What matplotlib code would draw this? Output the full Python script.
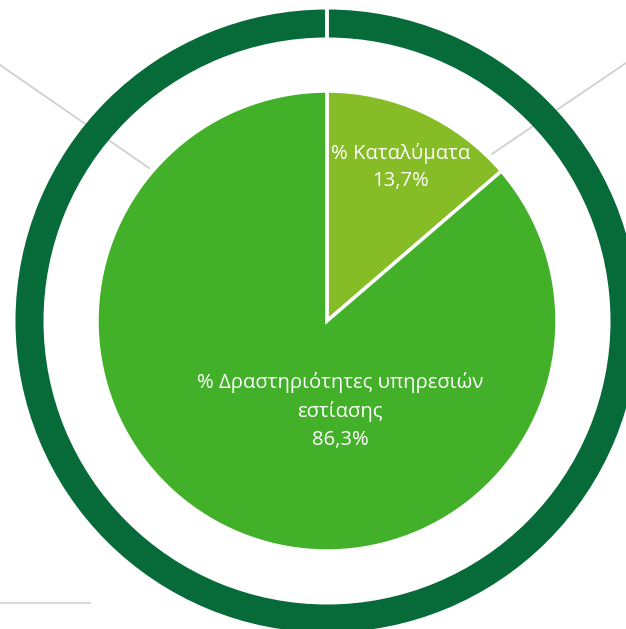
import matplotlib
matplotlib.use("Agg")
import matplotlib.pyplot as plt
import numpy as np

# data
labels = ["% Καταλύματα", "% Δραστηριότητες υπηρεσιών\nεστίασης"]
shares = [13.7, 86.3]
value_text = ["13,7%", "86,3%"]
colors = ["#86BC25", "#43B02A"]
ring_color = "#066B38"

W, H = 626, 629
fig = plt.figure(figsize=(W / 100, H / 100), dpi=100)
ax = fig.add_axes([0, 0, 1, 1])

cx, cy = 327, 321
r_pie = 230
r_ring, ring_w = 311.5, 28

# leftover leader lines from the source layout (sit behind the ring)
grey = "#d0d0d0"
ax.plot([0, 149], [65, 168], color=grey, lw=1.3, zorder=1)
ax.plot([626, 492], [63, 154], color=grey, lw=1.3, zorder=1)
ax.plot([0, 90], [603, 603], color="#d9d9d9", lw=1.5, zorder=1)

# outer ring (y axis is inverted, so counterclock=True runs clockwise on screen)
ax.pie([1], radius=r_ring, center=(cx, cy), startangle=-90, counterclock=True,
       colors=[ring_color], frame=True,
       wedgeprops=dict(width=ring_w, edgecolor="none", zorder=2))
# white seam at the ring's start
ax.plot([cx, cx], [cy - r_ring - 2, cy - r_ring + ring_w + 2],
        color="white", lw=2.8, zorder=2.5, solid_capstyle="butt")

wedges, _ = ax.pie(shares, radius=r_pie, center=(cx, cy), startangle=-90,
                   counterclock=True, colors=colors, frame=True,
                   wedgeprops=dict(edgecolor="white", linewidth=2.5, zorder=3))

ax.set_xlim(0, W)
ax.set_ylim(H, 0)
ax.set_aspect("equal")
ax.axis("off")

font = dict(family="Open Sans", color="white", fontsize=14.6, zorder=5,
            ha="center", va="center", linespacing=1.5)
ax.text(cx + 74, cy - 154, labels[0] + "\n" + value_text[0], **font)
ax.text(cx + 13, cy + 90, labels[1] + "\n" + value_text[1], **font)

fig.savefig("out.png", dpi=100)
